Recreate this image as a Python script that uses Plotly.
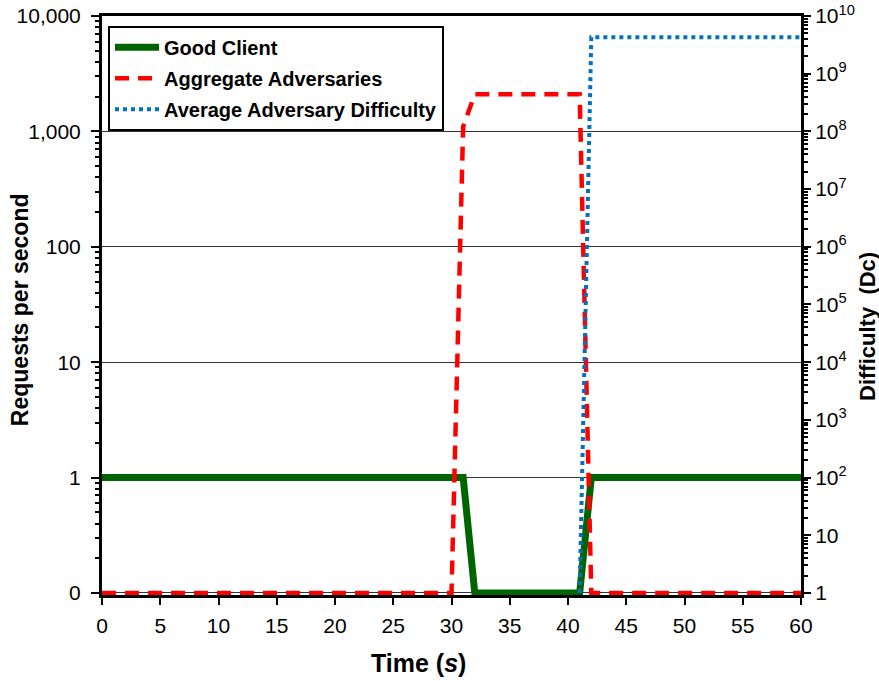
import plotly.graph_objects as go

# ---------------- data ----------------
time_s = [0, 1, 2, 3, 4, 5, 6, 7, 8, 9, 10, 11, 12, 13, 14, 15, 16, 17, 18, 19, 20,
          21, 22, 23, 24, 25, 26, 27, 28, 29, 30, 31, 32, 33, 34, 35, 36, 37, 38, 39, 40,
          41, 42, 43, 44, 45, 46, 47, 48, 49, 50, 51, 52, 53, 54, 55, 56, 57, 58, 59, 60]

good_client = [1, 1, 1, 1, 1, 1, 1, 1, 1, 1, 1, 1, 1, 1, 1, 1, 1, 1, 1, 1, 1,
               1, 1, 1, 1, 1, 1, 1, 1, 1, 1, 1, 0.1, 0.1, 0.1, 0.1, 0.1, 0.1, 0.1, 0.1, 0.1,
               0.1, 1, 1, 1, 1, 1, 1, 1, 1, 1, 1, 1, 1, 1, 1, 1, 1, 1, 1, 1]

aggregate_adversaries = [0.1, 0.1, 0.1, 0.1, 0.1, 0.1, 0.1, 0.1, 0.1, 0.1, 0.1,
                         0.1, 0.1, 0.1, 0.1, 0.1, 0.1, 0.1, 0.1, 0.1, 0.1,
                         0.1, 0.1, 0.1, 0.1, 0.1, 0.1, 0.1, 0.1, 0.1, 0.1,
                         1100, 2100, 2100, 2100, 2100, 2100, 2100, 2100, 2100, 2100,
                         2100, 0.1, 0.1, 0.1, 0.1, 0.1, 0.1, 0.1, 0.1, 0.1,
                         0.1, 0.1, 0.1, 0.1, 0.1, 0.1, 0.1, 0.1, 0.1, 0.1]

avg_adversary_difficulty = [None, None, None, None, None, None, None, None, None, None, None,
                            None, None, None, None, None, None, None, None, None, None,
                            None, None, None, None, None, None, None, None, None, None,
                            None, None, None, None, None, None, None, None, None, None,
                            1, 4.3e9, 4.3e9, 4.3e9, 4.3e9, 4.3e9, 4.3e9, 4.3e9, 4.3e9, 4.3e9,
                            4.3e9, 4.3e9, 4.3e9, 4.3e9, 4.3e9, 4.3e9, 4.3e9, 4.3e9, 4.3e9, 4.3e9]

left_tickvals = [0.1, 1, 10, 100, 1000, 10000]
left_ticktext = ["0", "1", "10", "100", "1,000", "10,000"]
right_tickvals = [1, 10, 1e2, 1e3, 1e4, 1e5, 1e6, 1e7, 1e8, 1e9, 1e10]
right_ticktext = ["1", "10", "10<sup>2</sup>", "10<sup>3</sup>", "10<sup>4</sup>",
                  "10<sup>5</sup>", "10<sup>6</sup>", "10<sup>7</sup>", "10<sup>8</sup>",
                  "10<sup>9</sup>", "10<sup>10</sup>"]
x_tickvals = [0, 5, 10, 15, 20, 25, 30, 35, 40, 45, 50, 55, 60]

# ---------------- figure ----------------
FONT = "Liberation Sans, Arial, sans-serif"
Y_RANGE = [-1.0175, 4]
Y2_RANGE = [-0.035, 10]

left_minor = [m * 10 ** e for e in range(-1, 4) for m in range(2, 10)]
right_minor = [m * 10 ** e for e in range(0, 10) for m in range(2, 10)]

fig = go.Figure()
fig.add_trace(go.Scatter(
    x=time_s, y=good_client, mode="lines", name="<b>Good Client</b>",
    line=dict(color="#006400", width=7), legendgroup="a"))
fig.add_trace(go.Scatter(
    x=time_s, y=aggregate_adversaries, mode="lines", name="<b>Aggregate Adversaries</b>",
    line=dict(color="#FF0000", width=4.5, dash="14px,9px"), legendgroup="b"))
fig.add_trace(go.Scatter(
    x=time_s, y=avg_adversary_difficulty, mode="lines",
    name="<b>Average Adversary Difficulty</b>", yaxis="y2",
    line=dict(color="#0070C0", width=4, dash="4px,4px"), legendgroup="c"))
# empty helper traces so the minor-tick axes get drawn
for ax in ("y3", "y4"):
    fig.add_trace(go.Scatter(x=[None], y=[None], yaxis=ax, mode="lines",
                             showlegend=False, hoverinfo="skip"))

minor_axis = dict(type="log", showgrid=False, zeroline=False, showline=False,
                  showticklabels=False, ticks="outside", ticklen=6, tickwidth=2,
                  tickcolor="black", automargin=False, anchor="x")

fig.update_layout(
    width=879, height=681,
    margin=dict(l=102, r=78, t=16, b=86, autoexpand=False),
    paper_bgcolor="white", plot_bgcolor="white",
    font=dict(family=FONT, size=21, color="black"),
    showlegend=True,
    legend=dict(x=0.0086, y=0.983, xanchor="left", yanchor="top",
                bgcolor="white", bordercolor="black", borderwidth=2,
                font=dict(family=FONT, size=20, color="black"),
                itemwidth=44, tracegroupgap=2, traceorder="grouped"),
    xaxis=dict(
        range=[0, 60], tickvals=x_tickvals, showgrid=False, zeroline=False,
        showline=True, linecolor="black", linewidth=3, mirror=True,
        ticks="outside", ticklen=7, tickwidth=2, tickcolor="black",
        ticklabelstandoff=3, layer="below traces", automargin=False,
        tickfont=dict(family=FONT, size=21),
    ),
    yaxis=dict(
        type="log", range=Y_RANGE, tickvals=left_tickvals, ticktext=left_ticktext,
        showgrid=True, gridcolor="#333333", gridwidth=1, zeroline=False,
        showline=True, linecolor="black", linewidth=3,
        ticks="outside", ticklen=8, tickwidth=2, tickcolor="black",
        ticklabelstandoff=6, layer="below traces", automargin=False,
        tickfont=dict(family=FONT, size=21),
    ),
    yaxis2=dict(
        type="log", range=Y2_RANGE, overlaying="y", side="right",
        tickvals=right_tickvals, ticktext=right_ticktext,
        showgrid=False, zeroline=False,
        showline=True, linecolor="black", linewidth=3,
        ticks="outside", ticklen=7, tickwidth=2, tickcolor="black",
        ticklabelstandoff=0, layer="below traces", automargin=False,
        tickfont=dict(family=FONT, size=21),
    ),
    yaxis3=dict(minor_axis, range=Y_RANGE, overlaying="y", side="left",
                tickvals=left_minor),
    yaxis4=dict(minor_axis, range=Y2_RANGE, overlaying="y", side="right",
                tickvals=right_minor),
    annotations=[
        dict(text="<b>Requests per second</b>", xref="paper", yref="paper",
             x=-0.1173, y=0.492, xanchor="center", yanchor="middle",
             textangle=-90, showarrow=False, font=dict(family=FONT, size=23)),
        dict(text="<b>Difficulty  (Dc)</b>", xref="paper", yref="paper",
             x=1.0959, y=0.463, xanchor="center", yanchor="middle",
             textangle=-90, showarrow=False, font=dict(family=FONT, size=22)),
        dict(text="<b>Time (<i>s</i>)</b>", xref="paper", yref="paper",
             x=0.4528, y=-0.1174, xanchor="center", yanchor="middle",
             showarrow=False, font=dict(family=FONT, size=25)),
    ],
)

fig.write_html("out.html")
